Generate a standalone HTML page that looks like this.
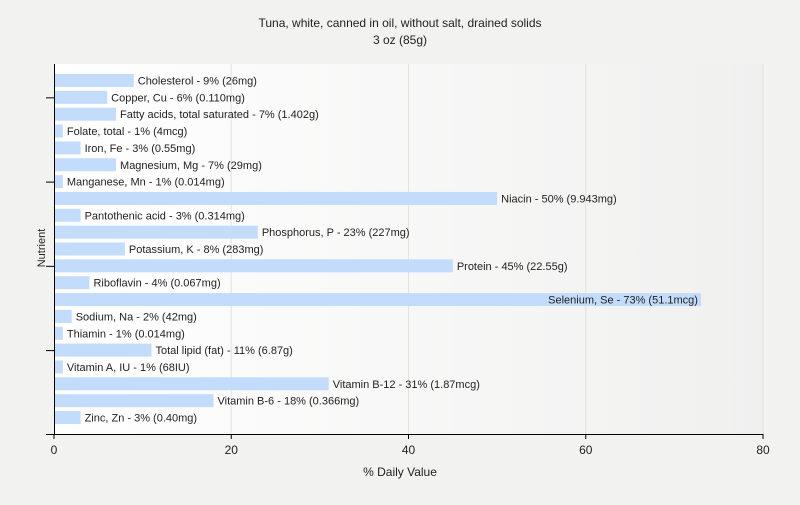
<!DOCTYPE html>
<html><head><meta charset="utf-8"><style>
body{margin:0;background:#f2f2f1;font-family:"Liberation Sans",sans-serif;}
svg text{font-family:"Liberation Sans",sans-serif;fill:#222;}
</style></head><body>
<svg width="800" height="500">
<defs><linearGradient id="bg" x1="0" x2="1" y1="0" y2="0"><stop offset="0" stop-color="#ffffff"/><stop offset="1" stop-color="#f0f0ef"/></linearGradient></defs>
<rect width="800" height="500" fill="#f2f2f1"/>
<rect x="54" y="64" width="709" height="370" fill="url(#bg)"/>
<text x="400" y="27" font-size="12" text-anchor="middle">Tuna, white, canned in oil, without salt, drained solids</text>
<text x="400" y="44" font-size="12" text-anchor="middle">3 oz (85g)</text>
<text x="400" y="476" font-size="12" text-anchor="middle">% Daily Value</text>
<text transform="translate(45,248) rotate(-90)" font-size="11" text-anchor="middle">Nutrient</text>
<g id="g"></g>
</svg>
<script>
const categories=["Cholesterol - 9% (26mg)","Copper, Cu - 6% (0.110mg)","Fatty acids, total saturated - 7% (1.402g)","Folate, total - 1% (4mcg)","Iron, Fe - 3% (0.55mg)","Magnesium, Mg - 7% (29mg)","Manganese, Mn - 1% (0.014mg)","Niacin - 50% (9.943mg)","Pantothenic acid - 3% (0.314mg)","Phosphorus, P - 23% (227mg)","Potassium, K - 8% (283mg)","Protein - 45% (22.55g)","Riboflavin - 4% (0.067mg)","Selenium, Se - 73% (51.1mcg)","Sodium, Na - 2% (42mg)","Thiamin - 1% (0.014mg)","Total lipid (fat) - 11% (6.87g)","Vitamin A, IU - 1% (68IU)","Vitamin B-12 - 31% (1.87mcg)","Vitamin B-6 - 18% (0.366mg)","Zinc, Zn - 3% (0.40mg)"];
const values=[9,6,7,1,3,7,1,50,3,23,8,45,4,73,2,1,11,1,31,18,3];
const xTicks=[0,20,40,60,80];
const NS="http://www.w3.org/2000/svg",g=document.getElementById("g");
const x=v=>54+v*(709/80);
const n=categories.length;
const step=(434-64-33)/(n-1);
const yc=i=>80.5+step*i;
function mk(t,a){const e=document.createElementNS(NS,t);for(const k in a)e.setAttribute(k,a[k]);g.appendChild(e);return e;}
xTicks.forEach(t=>{
 if(t>0){const l=mk("line",{x1:x(t),x2:x(t),y1:64,y2:434,stroke:"#e2e2e2"});
 
 }
 const tk=mk("line",{x1:x(t),x2:x(t),y1:434,y2:439,stroke:"#000"});
 
 
 const tx=mk("text",{x:x(t),y:454,"font-size":12,"text-anchor":"middle"});tx.textContent=t;
 
 
});
categories.forEach((c,i)=>{
 const r=mk("rect",{x:x(0),y:yc(i)-6.5,width:x(values[i])-x(0),height:13,fill:"#c3dcfb"});
 
 
 const t=mk("text",{x:x(values[i])+4,y:yc(i)+4,"font-size":11});t.textContent=c;
 
 
 if(x(values[i])+4+t.getComputedTextLength()>795){t.setAttribute("x",x(values[i])-3);t.setAttribute("text-anchor","end");}
 if(i%5==1){const tk=mk("line",{x1:46,x2:54,y1:yc(i)+0.5,y2:yc(i)+0.5,stroke:"#000"});
 
 }
});
const ya=mk("line",{x1:54.5,x2:54.5,y1:64,y2:434,stroke:"#000"});


const xa=mk("line",{x1:46,x2:763,y1:434.5,y2:434.5,stroke:"#000"});


</script>
</body></html>
